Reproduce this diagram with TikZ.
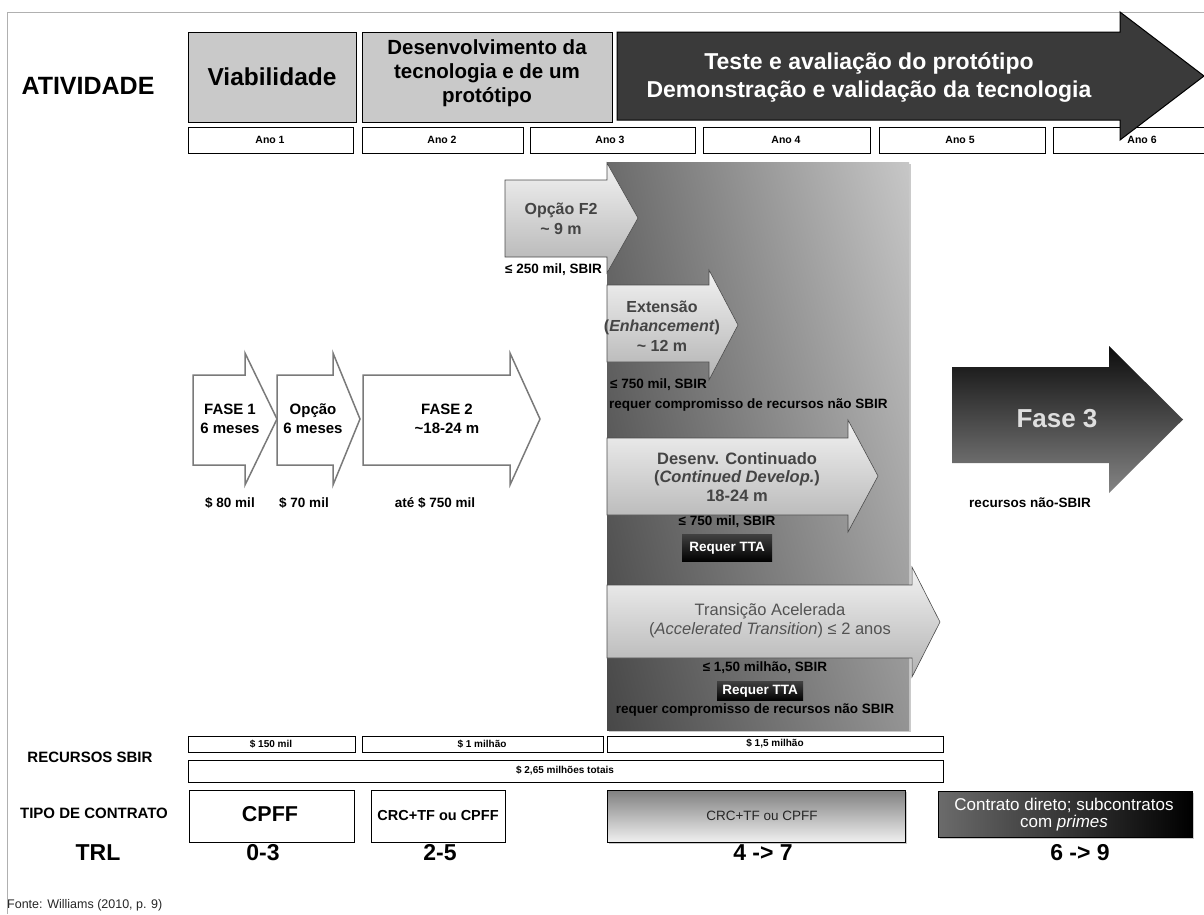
\documentclass[tikz,border=0pt]{standalone}
\usepackage{fontspec}
\setmainfont{Liberation Sans}
\usetikzlibrary{shadings,shadows}
\newcommand{\fsz}[2]{\fontsize{#1}{#2}\selectfont}
% optional style, x0, x1, body top, body bottom, head top, head bottom, tip x
\newcommand{\myarw}[8][]{\path[#1] (#2,#4) -- (#3,#4) -- (#3,#6) -- (#8,{(#6+#7)/2}) -- (#3,#7) -- (#3,#5) -- (#2,#5) -- cycle;}
\definecolor{boxgray}{HTML}{C9C9C9}
\definecolor{testegray}{HTML}{3A3A3A}
\definecolor{txtgray}{HTML}{444444}
\definecolor{fasegray}{HTML}{7A7A7A}
\definecolor{framegray}{HTML}{B0B0B0}
\begin{document}
\begin{tikzpicture}[x=1pt,y=-1pt,
  lbl/.style={font=\bfseries\fsz{13.5}{16}, inner sep=0pt},
  yearbox/.style={draw=black, line width=0.9pt, fill=white},
  yeartxt/.style={font=\bfseries\fsz{10.5}{12}, inner sep=0pt},
  sbirtxt/.style={font=\bfseries\fsz{10}{12}, inner sep=0pt},
  actbox/.style={draw=black, line width=1pt, fill=boxgray},
  faseshape/.style={draw=fasegray, line width=1.5pt, fill=white},
  fasetxt/.style={font=\bfseries\fsz{15}{19}, align=center, inner sep=0pt},
  opttxt/.style={font=\bfseries\fsz{16}{19.5}, align=center, inner sep=0pt, text=txtgray},
  lightarw/.style={draw=black!70, line width=0.6pt, top color=white!95!black, bottom color=black!30},
  tta/.style={top color=black!75, bottom color=black, text=white, font=\bfseries\fsz{13.5}{15}, inner sep=0pt},
  bigtxt/.style={font=\bfseries\fsz{23}{27}, inner sep=0pt},
  rowlbl/.style={font=\bfseries\fsz{15}{18}, inner sep=0pt},
  shad/.style={drop shadow={shadow xshift=2pt, shadow yshift=-2pt, opacity=0.35, fill=black!60}}
]
\useasboundingbox (0,0) rectangle (1204,914);
% frame
\draw[framegray, line width=1pt] (7,914) -- (7,12) -- (1204,12);

% ---------- top: activities ----------
\node[font=\bfseries\fsz{25}{30}, inner sep=0pt] (ativ) at (88,86) {ATIVIDADE};
\draw[actbox] (188,32) rectangle (356,122);
\node[font=\bfseries\fsz{24.5}{28}, inner sep=0pt] (viab) at (272,77) {Viabilidade};
\draw[actbox] (362,32) rectangle (612,122);
\node[font=\bfseries\fsz{20.5}{24}, align=center, inner sep=0pt] (desenv) at (487,73) {Desenvolvimento da\\tecnologia e de um\\protótipo};

% year boxes
\draw[yearbox] (188,127) rectangle (353,153);
\draw[yearbox] (362,127) rectangle (523,153);
\draw[yearbox] (530,127) rectangle (695,153);
\draw[yearbox] (703,127) rectangle (870,153);
\draw[yearbox] (879,127) rectangle (1045,153);
\draw[yearbox] (1204,127) -- (1053,127) -- (1053,153) -- (1204,153);

% teste arrow
\myarw[draw=black, line width=1pt, fill=testegray]{617}{1120}{32}{120}{12}{140}{1204}
\node[font=\bfseries\fsz{23}{28}, align=center, text=white, inner sep=0pt] (teste) at (869,77) {Teste e avaliação do protótipo\\Demonstração e validação da tecnologia};

\node[yeartxt] (ano1) at (270,140) {Ano 1};
\node[yeartxt] (ano2) at (442,140) {Ano 2};
\node[yeartxt] (ano3) at (610,140) {Ano 3};
\node[yeartxt] (ano4) at (786,140) {Ano 4};
\node[yeartxt] (ano5) at (960,140) {Ano 5};
\node[yeartxt] (ano6) at (1142,140) {Ano 6};

% ---------- big gradient area ----------
\shade[shad, upper left=black!58, upper right=black!22, lower left=black!72, lower right=black!42] (607,162) rectangle (909,730);

% Opção F2
\myarw[lightarw]{505}{607}{180}{257}{163}{273}{638}
\node[opttxt] (of2) at (561,219) {Opção F2\\\textasciitilde\ 9 m};
\node[lbl, anchor=west] (of2v) at (505,270) {≤ 250 mil, SBIR};

% Extensão
\myarw[lightarw]{607}{709}{285}{362}{270}{380}{738}
\node[opttxt] (ext) at (662,326) {Extensão\\(\textit{Enhancement})\\\textasciitilde\ 12 m};
\node[lbl, anchor=west] (extv) at (610,385) {≤ 750 mil, SBIR};
\node[lbl, anchor=west] (extr) at (609,405) {requer compromisso de recursos não SBIR};

% Desenv. Continuado
\myarw[lightarw]{607}{848}{438}{515}{420}{532}{878}
\node[opttxt, font=\bfseries\fsz{16.5}{18.5}] (cont) at (737,477) {Desenv. Continuado\\(\textit{Continued Develop.})\\18-24 m};
\node[lbl] (contv) at (727,522) {≤ 750 mil, SBIR};
\node[tta, minimum width=90pt, minimum height=27pt] (tta1) at (727,548) {Requer TTA};

% Transição Acelerada
\myarw[lightarw]{607}{912}{585}{658}{567}{677}{940}
\node[font=\fsz{16.5}{19}, align=center, inner sep=0pt, text=black!68] (trans) at (770,621) {Transição Acelerada\\(\textit{Accelerated Transition}) ≤ 2 anos};
\node[lbl] (transv) at (765,668) {≤ 1,50 milhão, SBIR};
\node[tta, minimum width=86pt, minimum height=19pt] (tta2) at (760,691) {Requer TTA};
\node[lbl] (transr) at (755,710) {requer compromisso de recursos não SBIR};

% ---------- phase arrows ----------
\myarw[faseshape]{193}{245}{375}{465}{353}{485}{277}
\node[fasetxt] (f1) at (230,419) {FASE 1\\6 meses};
\myarw[faseshape]{277}{333}{375}{465}{353}{485}{360}
\node[fasetxt] (op) at (313,419) {Opção\\6 meses};
\myarw[faseshape]{363}{510}{375}{465}{353}{485}{540}
\node[fasetxt] (f2) at (447,419) {FASE 2\\\textasciitilde 18-24 m};
\node[lbl] (v1) at (230,503) {\$ 80 mil};
\node[lbl] (v2) at (304,503) {\$ 70 mil};
\node[lbl] (v3) at (435,503) {até \$ 750 mil};

% Fase 3
\myarw[top color=black!95, bottom color=black!48]{952}{1109}{367}{463}{346}{493}{1183}
\node[font=\bfseries\fsz{26}{30}, text=black!13, inner sep=0pt] (f3) at (1057,419) {Fase 3};
\node[lbl] (f3v) at (1030,503) {recursos não-SBIR};

% ---------- bottom rows ----------
\node[rowlbl] (rec) at (90,757) {RECURSOS SBIR};
\draw[yearbox] (188,736) rectangle (355,752);
\node[sbirtxt] (r1) at (271,744) {\$ 150 mil};
\draw[yearbox] (362,736) rectangle (603,752);
\node[sbirtxt] (r2) at (482,744) {\$ 1 milhão};
\draw[yearbox] (607,736) rectangle (943,752);
\node[sbirtxt] (r3) at (775,744) {\$ 1,5 milhão};
\draw[yearbox] (188,760) rectangle (943,782);
\node[sbirtxt] (r4) at (565,771) {\$ 2,65 milhões totais};

\node[rowlbl] (tipo) at (94,813) {TIPO DE CONTRATO};
\draw[yearbox] (189,790) rectangle (354,842);
\node[font=\bfseries\fsz{21.5}{24}, inner sep=0pt] (cpff) at (270,814) {CPFF};
\draw[yearbox] (371,790) rectangle (505,842);
\node[font=\bfseries\fsz{14.5}{17}, inner sep=0pt] (crc1) at (438,815) {CRC+TF ou CPFF};
\path[shad, draw=black, line width=0.8pt, top color=black!50, bottom color=black!6] (607,790) rectangle (905,842);
\node[font=\fsz{13.5}{16}, inner sep=0pt, text=black!85] (crc2) at (762,816) {CRC+TF ou CPFF};
\path[shad, draw=black, line width=0.8pt, left color=black!58, right color=black] (938,791) rectangle (1192,837);
\node[font=\fsz{17}{17}, align=center, text=white, inner sep=0pt] (dir) at (1064,815) {Contrato direto; subcontratos\\com \textit{primes}};

% TRL
\node[bigtxt] (trl) at (98,853) {TRL};
\node[bigtxt] (t1) at (263,853) {0-3};
\node[bigtxt] (t2) at (440,853) {2-5};
\node[bigtxt] (t3) at (763,853) {4 -> 7};
\node[bigtxt] (t4) at (1080,853) {6 -> 9};

\node[font=\fsz{12.5}{15}, anchor=west, inner sep=0pt, text=black!85] (fonte) at (7,905) {Fonte: Williams (2010, p. 9)};
\end{tikzpicture}
\end{document}
